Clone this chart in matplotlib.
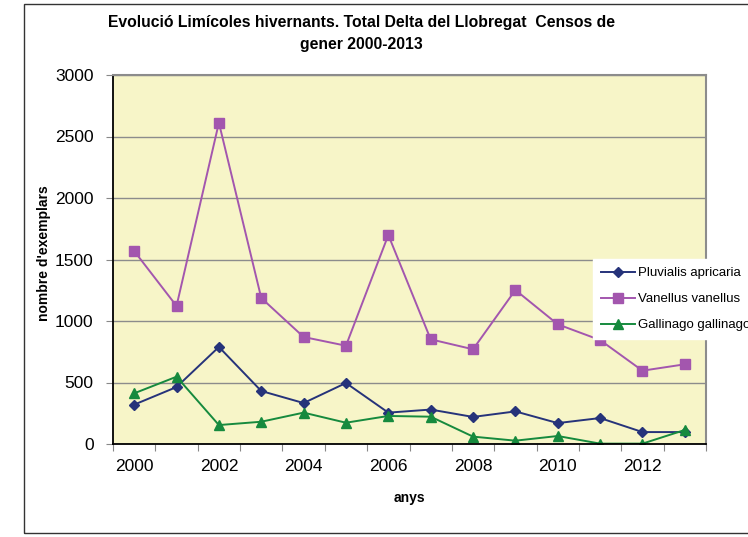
import matplotlib.pyplot as plt
from matplotlib.patches import Rectangle

plt.rcParams['font.family'] = ['Liberation Sans', 'DejaVu Sans']

# dades llegides del gràfic
anys = [2000, 2001, 2002, 2003, 2004, 2005, 2006, 2007, 2008, 2009, 2010, 2011, 2012, 2013]
pluvialis = [320, 463, 789, 431, 333, 496, 255, 280, 220, 265, 170, 211, 97, 97]
vanellus = [1569, 1122, 2612, 1187, 870, 799, 1699, 851, 770, 1252, 973, 845, 596, 648]
gallinago = [412, 547, 154, 181, 255, 173, 228, 222, 60, 27, 65, 3, 3, 114]
noms = ['Pluvialis apricaria', 'Vanellus vanellus', 'Gallinago gallinago']

fig = plt.figure(figsize=(7.48, 5.37), dpi=100)
ax = fig.add_axes([113/748, 1 - 444/537, (706-113)/748, (444-75)/537])
ax.set_facecolor('#F7F5C8')

# marc exterior del gràfic
fig.patches.append(Rectangle((24/748, 1 - 533/537), 1.0, (533-4)/537, transform=fig.transFigure,
                             fill=False, edgecolor='#333333', linewidth=1.0))

x = list(range(len(anys)))
ax.plot(x, pluvialis, color='#26337A', marker='D', markersize=5, linewidth=1.4, label=noms[0])
ax.plot(x, vanellus, color='#A356AE', marker='s', markersize=6.5, linewidth=1.4, label=noms[1])
ax.plot(x, gallinago, color='#168A3E', marker='^', markersize=6.5, linewidth=1.4, label=noms[2])

ax.set_xlim(-0.5, len(anys) - 0.5)
ax.set_ylim(0, 3000)
ax.set_yticks(range(0, 3001, 500))
ax.yaxis.grid(True, color='#8C8C8C', linewidth=1.0)
ax.set_axisbelow(True)

# ticks entre categories, etiquetes cada dos anys
ax.set_xticks([i - 0.5 for i in range(len(anys) + 1)])
ax.set_xticklabels([])
ax.set_xticks(x[::2], minor=True)
ax.set_xticklabels([str(a) for a in anys[::2]], minor=True)
ax.tick_params(axis='x', which='minor', length=0, pad=11, labelsize=12.5)
ax.tick_params(axis='x', which='major', length=5, color='#888888', direction='out')
ax.tick_params(axis='y', length=5, color='#888888', labelsize=12.5, pad=9)

for s in ['top', 'right']:
    ax.spines[s].set_color('#8C8C8C')
    ax.spines[s].set_linewidth(1.5)
ax.spines['left'].set_color('black')
ax.spines['bottom'].set_color('black')
ax.spines['left'].set_linewidth(1.3)
ax.spines['bottom'].set_linewidth(1.3)

fig.text(361/748, 1 - 22/537, "Evolució Limícoles hivernants. Total Delta del Llobregat  Censos de",
         ha='center', va='center', fontsize=11.3, fontweight='bold')
fig.text(361/748, 1 - 45/537, "gener 2000-2013", ha='center', va='center', fontsize=11.3, fontweight='bold')
fig.text(409/748, 1 - 498/537, "anys", ha='center', va='center', fontsize=10, fontweight='bold')
fig.text(44/748, 1 - 253/537, "nombre d'exemplars", ha='center', va='center', rotation=90,
         fontsize=10, fontweight='bold')

leg = fig.legend(loc='upper left', bbox_to_anchor=(593/748, 1 - 259/537), frameon=True,
                 fontsize=9.5, handlelength=2.6, handletextpad=0.2, labelspacing=1.05,
                 borderaxespad=0, borderpad=0.6, fancybox=False)
leg.get_frame().set_edgecolor('white')
leg.get_frame().set_facecolor('white')
leg.get_frame().set_alpha(1)

fig.savefig('out.png', dpi=100)
